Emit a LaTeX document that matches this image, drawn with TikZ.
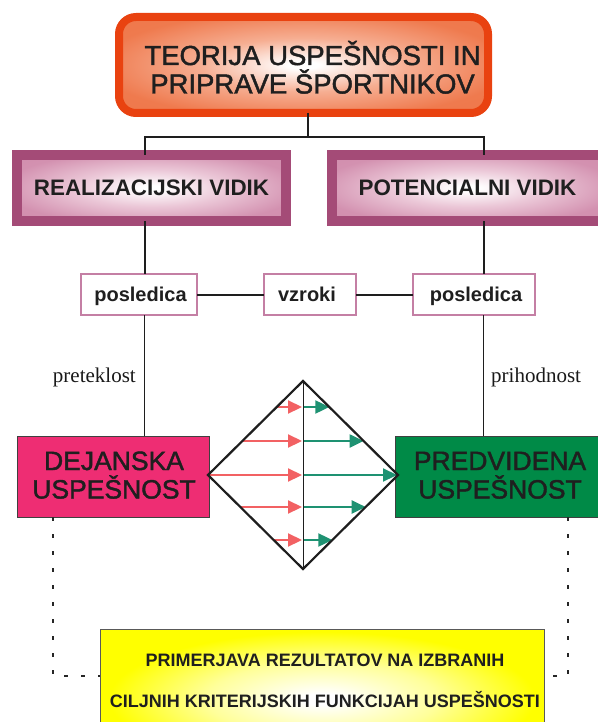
\documentclass[tikz,border=0pt]{standalone}
\usepackage{fontspec}
\setmainfont{Liberation Serif}
\newfontfamily\arialf{Liberation Sans}
\newfontfamily\arialm[FakeBold=1.6]{Liberation Sans}
\usetikzlibrary{arrows.meta}

\definecolor{titleborder}{HTML}{E94210}
\definecolor{titlemid}{HTML}{F6AE92}
\definecolor{titleedge}{HTML}{EF7A4E}
\definecolor{titleedgeb}{HTML}{EC6A3A}
\definecolor{pinkborder}{HTML}{A44B77}
\definecolor{pinkmid}{HTML}{EBC7D7}
\definecolor{pinkedge}{HTML}{D391B0}
\definecolor{pinkedgeb}{HTML}{C97EA2}
\definecolor{yelmid}{HTML}{FFFF9A}
\definecolor{smallborder}{HTML}{C47FA4}
\definecolor{dejfill}{HTML}{EE2D73}
\definecolor{predfill}{HTML}{008A47}
\definecolor{redarr}{HTML}{F26163}
\definecolor{greenarr}{HTML}{1E9272}
\definecolor{lineblack}{HTML}{1E1E1E}

\pgfdeclareradialshading{orangeglow}{\pgfpointorigin}{color(0bp)=(white); color(2bp)=(white); color(14bp)=(titlemid); color(28bp)=(titleedge); color(72bp)=(titleedgeb)}
\pgfdeclareradialshading{pinkglow}{\pgfpointorigin}{color(0bp)=(white); color(2bp)=(white); color(14bp)=(pinkmid); color(28bp)=(pinkedge); color(72bp)=(pinkedgeb)}
\pgfdeclareradialshading{yellowglow}{\pgfpointorigin}{color(0bp)=(white); color(2bp)=(white); color(13bp)=(yelmid); color(24bp)=(yellow); color(72bp)=(yellow)}

\begin{document}
\begin{tikzpicture}[x=1pt,y=-1pt,
  box/.style={shape=rectangle, inner sep=0pt, outer sep=0pt},
  titlebox/.style={box, draw=titleborder, line width=8pt, rounded corners=17pt, shade, shading=orangeglow},
  vidikbox/.style={box, draw=pinkborder, line width=10pt, shade, shading=pinkglow},
  smallbox/.style={box, draw=smallborder, line width=1.3pt, fill=white},
  resbox/.style={box, draw=black!75, line width=0.8pt},
  yelbox/.style={box, draw=black!65, line width=1pt, shade, shading=yellowglow},
  titletxt/.style={anchor=base, inner sep=0pt, font=\arialm\fontsize{27.5}{30}\selectfont, text=black!88},
  vidiktxt/.style={anchor=base, inner sep=0pt, font=\arialf\bfseries\fontsize{22.4}{26}\selectfont, text=black!88},
  smalltxt/.style={anchor=base, inner sep=0pt, font=\arialf\bfseries\fontsize{20}{24}\selectfont, text=black!88},
  timetxt/.style={inner sep=0pt, font=\fontsize{21}{24}\selectfont, text=black!90},
  restxt/.style={anchor=base, inner sep=0pt, font=\arialm\fontsize{26.5}{30}\selectfont, text=black!88},
  yeltxt/.style={anchor=base, inner sep=0pt, font=\arialf\bfseries\fontsize{18}{22}\selectfont, text=black!88},
  tree/.style={draw=lineblack, line width=2pt},
  thin/.style={draw=lineblack, line width=1.1pt},
  dotline/.style={draw=black!85, line width=1.6pt, dash pattern=on 4pt off 13pt},
  redarrow/.style={draw=redarr, line width=2.2pt, -{Triangle[length=14pt,width=13pt]}},
  greenarrow/.style={draw=greenarr, line width=2.2pt, -{Triangle[length=14pt,width=13pt]}}
]
\useasboundingbox (0,0) rectangle (597,722);

% helper coordinates
\coordinate (jt) at (308,137);
\coordinate (xL) at (144.5,0);
\coordinate (xR) at (483.5,0);
\coordinate (cL) at (53,676);
\coordinate (cR) at (568,676);

% boxes
\node[titlebox, minimum width=369pt, minimum height=96pt] (title) at (303.5,65) {};
\node[vidikbox, minimum width=269pt, minimum height=66pt] (real) at (151.5,188) {};
\node[vidikbox, minimum width=271pt, minimum height=66pt] (pot) at (467.5,188) {};
\node[smallbox, minimum width=116pt, minimum height=41pt] (posL) at (139,294.5) {};
\node[smallbox, minimum width=92pt, minimum height=41pt] (vz) at (310,294.5) {};
\node[smallbox, minimum width=122pt, minimum height=41pt] (posR) at (474,294.5) {};
\node[resbox, fill=dejfill, minimum width=192pt, minimum height=81pt] (dej) at (113,476.5) {};
\node[resbox, fill=predfill, minimum width=205pt, minimum height=81pt] (pred) at (497.5,476.5) {};
\node[yelbox, minimum width=444pt, minimum height=140pt] (yel) at (322,699) {};

% texts
\node[titletxt] (t1) at (312.5,65) {TEORIJA USPEŠNOSTI IN};
\node[titletxt] (t2) at (312.5,93.5) {PRIPRAVE ŠPORTNIKOV};
\node[vidiktxt] (rt) at (151.5,196) {REALIZACIJSKI VIDIK};
\node[vidiktxt] (pt) at (467.5,196) {POTENCIALNI VIDIK};
\node[smalltxt] (plt) at (140.5,301.5) {posledica};
\node[smalltxt] (vzt) at (307,301.5) {vzroki};
\node[smalltxt] (prt) at (476,301.5) {posledica};
\node[timetxt, anchor=base east] (past) at (136,382) {preteklost};
\node[timetxt, anchor=base west] (fut) at (491,382) {prihodnost};
\node[restxt] (d1) at (114,470) {DEJANSKA};
\node[restxt] (d2) at (114,498.5) {USPEŠNOST};
\node[restxt] (p1) at (500,470) {PREDVIDENA};
\node[restxt] (p2) at (500,498.5) {USPEŠNOST};
\node[yeltxt] (y1) at (325,666) {PRIMERJAVA REZULTATOV NA IZBRANIH};
\node[yeltxt] (y2) at (325,707) {CILJNIH KRITERIJSKIH FUNKCIJAH USPEŠNOSTI};

% tree connectors
\draw[tree] (title.south -| jt) -- (jt);
\draw[tree] (real.north -| xL) -- (xL |- jt) -- (xR |- jt) -- (pot.north -| xR);
\draw[tree] (real.south -| xL) -- (posL.north -| xL);
\draw[tree] (pot.south -| xR) -- (posR.north -| xR);
\draw[tree] (posL.east) -- (vz.west);
\draw[tree] (vz.east) -- (posR.west);
\draw[thin] (posL.south -| xL) -- (dej.north -| xL);
\draw[thin] (posR.south -| xR) -- (pred.north -| xR);

% dotted links to the comparison box
\draw[dotline] (dej.south -| cL) -- (cL) -- (cL -| yel.west);
\draw[dotline] (pred.south -| cR) -- (cR) -- (cR -| yel.east);

% diamond
\coordinate (dT) at (303,381);
\coordinate (dR) at (398,475);
\coordinate (dB) at (303,569);
\coordinate (dL) at (208,475);
\draw[lineblack, line width=1pt] (dT) -- (dB);
\foreach \yy/\hw in {407/26.3, 441/60.6, 475/94, 507/62.7, 540/29.3} {
  \draw[redarrow] (303-\hw,\yy) -- (302,\yy);
  \draw[greenarrow] (303.5,\yy) -- (303+\hw,\yy);
}
\draw[lineblack, line width=2.2pt, line join=miter] (dT) -- (dR) -- (dB) -- (dL) -- cycle;
\end{tikzpicture}
\end{document}
